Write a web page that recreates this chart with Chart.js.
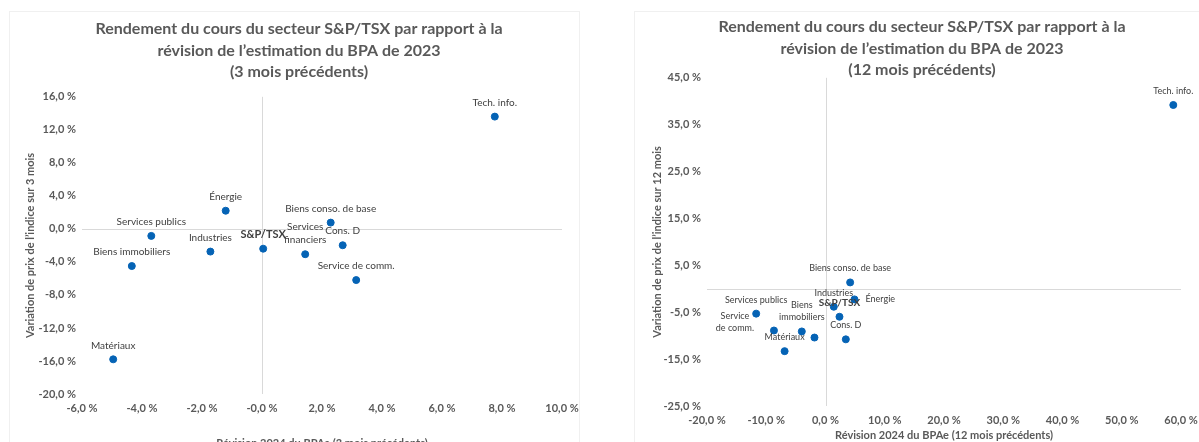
<!DOCTYPE html>
<html>
<head>
<meta charset="utf-8">
<script src="https://cdn.jsdelivr.net/npm/chart.js@4.4.1/dist/chart.umd.min.js"></script>
<style>
html, body { margin: 0; padding: 0; background: #fff; overflow: hidden; width: 1199px; height: 442px; }
canvas { position: absolute; top: 0; }
#c3 { left: 0; }
#c12 { left: 610px; }
.panel { position: absolute; border: 1px solid #f0f0f0; }
</style>
</head>
<body>
<div class="panel" style="left:9px;top:11px;width:569px;height:460px"></div>
<div class="panel" style="left:634px;top:11px;width:600px;height:460px"></div>
<canvas id="c3" width="600" height="470"></canvas>
<canvas id="c12" width="600" height="470"></canvas>
<script>
// 3 mois
const sectors3m = ['Tech. info.', 'Énergie', 'Services publics', 'Industries', 'S&P/TSX', 'Biens immobiliers',
  'Matériaux', 'Biens conso. de base', 'Cons. D', 'Services financiers', 'Service de comm.'];
const epsRevision3m = [7.76, -1.21, -3.69, -1.72, 0.04, -4.34, -4.96, 2.29, 2.69, 1.44, 3.14];
const priceChange3m = [13.6, 2.2, -0.85, -2.75, -2.4, -4.5, -15.8, 0.76, -1.98, -3.07, -6.2];

const xTicks3m = [-6, -4, -2, 0, 2, 4, 6, 8, 10];
const xTickLabels3m = ['-6,0 %', '-4,0 %', '-2,0 %', '-0,0 %', '2,0 %', '4,0 %', '6,0 %', '8,0 %', '10,0 %'];
const yTicks3m = [16, 12, 8, 4, 0, -4, -8, -12, -16, -20];
const yTickLabels3m = ['16,0 %', '12,0 %', '8,0 %', '4,0 %', '0,0 %', '-4,0 %', '-8,0 %', '-12,0 %', '-16,0 %', '-20,0 %'];

// 12 mois
const sectors12m = ['Tech. info.', 'Biens conso. de base', 'Énergie', 'Industries', 'S&P/TSX', 'Cons. D',
  'Services publics', 'Service de comm.', 'Biens immobiliers', 'Matériaux', 'Services financiers'];
const epsRevision12m = [58.7, 4.16, 4.89, 1.4, 2.36, 3.43, -11.7, -8.7, -4.0, -6.9, -1.86];
const priceChange12m = [39.2, 1.36, -2.26, -3.83, -5.97, -10.78, -5.3, -8.9, -9.1, -13.3, -10.4];

const xTicks12m = [-20, -10, 0, 10, 20, 30, 40, 50, 60];
const xTickLabels12m = ['-20,0 %', '-10,0 %', '0,0 %', '10,0 %', '20,0 %', '30,0 %', '40,0 %', '50,0 %', '60,0 %'];
const yTicks12m = [45, 35, 25, 15, 5, -5, -15, -25];
const yTickLabels12m = ['45,0 %', '35,0 %', '25,0 %', '15,0 %', '5,0 %', '-5,0 %', '-15,0 %', '-25,0 %'];

const FONT = 'Lato, "Open Sans", sans-serif';
const GREY = '#595959';
const BLUE = '#0563b5';

// axes crossing at zero
const zeroLines = {
  id: 'zeroLines',
  beforeDatasetsDraw(chart) {
    const { ctx, chartArea: a, scales: { x, y } } = chart;
    const x0 = Math.round(x.getPixelForValue(0)) + 0.5;
    const y0 = Math.round(y.getPixelForValue(0)) + 0.5;
    ctx.save();
    ctx.strokeStyle = '#d9d9d9';
    ctx.lineWidth = 1;
    ctx.beginPath();
    ctx.moveTo(a.left, y0); ctx.lineTo(a.right, y0);
    ctx.moveTo(x0, a.top); ctx.lineTo(x0, a.bottom);
    ctx.stroke();
    ctx.restore();
  }
};

// text labels next to each point
const pointLabels = {
  id: 'pointLabels',
  afterDatasetsDraw(chart, args, opts) {
    const ctx = chart.ctx;
    const meta = chart.getDatasetMeta(0);
    const names = chart.data.labels;
    ctx.save();
    ctx.fillStyle = '#404040';
    meta.data.forEach((pt, i) => {
      const name = names[i];
      if (opts.hidden.includes(name)) return;
      const lines = opts.wrap[name] || [name];
      const bold = name === 'S&P/TSX';
      const size = bold ? opts.size + 1 : opts.size;
      ctx.font = (bold ? 'bold ' : '') + size + 'px ' + FONT;
      ctx.textBaseline = 'middle';
      const lh = size + 3;
      const side = opts.side[name] || 'top';
      lines.forEach((ln, k) => {
        let tx = pt.x, ty;
        if (side === 'top') {
          ctx.textAlign = 'center';
          ty = pt.y - 14 - (lines.length - 1 - k) * lh;
        } else if (side === 'right') {
          ctx.textAlign = 'left';
          tx = pt.x + 11;
          ty = pt.y + (k - (lines.length - 1) / 2) * lh;
        } else {
          ctx.textAlign = 'center';
          tx = pt.x - 39;
          ty = pt.y - 8 + (k - (lines.length - 1) / 2) * lh;
        }
        ctx.fillText(ln, tx, ty);
      });
    });
    ctx.restore();
  }
};

function makeChart(id, o) {
  return new Chart(document.getElementById(id), {
    type: 'scatter',
    data: {
      labels: o.names,
      datasets: [{
        data: o.xs.map((v, i) => ({ x: v, y: o.ys[i] })),
        backgroundColor: BLUE,
        borderColor: BLUE,
        pointRadius: 3.5,
        pointHoverRadius: 3.5
      }]
    },
    options: {
      responsive: false,
      animation: false,
      events: [],
      layout: { padding: o.padding },
      plugins: {
        legend: { display: false },
        tooltip: { enabled: false },
        title: {
          display: true,
          text: o.title,
          color: GREY,
          font: { family: FONT, size: 16, weight: 'bold', lineHeight: 1.35 },
          padding: o.titlePad
        },
        pointLabels: o.labelOpts
      },
      scales: {
        x: {
          type: 'linear',
          min: o.xTicks[0],
          max: o.xTicks[o.xTicks.length - 1],
          afterBuildTicks: s => { s.ticks = o.xTicks.map(v => ({ value: v })); },
          afterFit: s => { s.height = o.xHeight; },
          grid: { display: false, drawTicks: false },
          border: { display: false },
          ticks: {
            autoSkip: false, maxRotation: 0, padding: 8,
            color: GREY, font: { family: FONT, size: 11, weight: 'bold' },
            callback: (v, i) => o.xLabels[i]
          },
          title: {
            display: true, text: o.xTitle, color: GREY,
            font: { family: FONT, size: 11, weight: 'bold' },
            padding: o.xTitlePad
          }
        },
        y: {
          type: 'linear',
          min: o.yTicks[o.yTicks.length - 1],
          max: o.yTicks[0],
          afterBuildTicks: s => { s.ticks = o.yTicks.slice().reverse().map(v => ({ value: v })); },
          afterFit: s => { s.width = o.yWidth; },
          grid: { display: false, drawTicks: false },
          border: { display: false },
          ticks: {
            autoSkip: false, padding: 6,
            color: GREY, font: { family: FONT, size: 11, weight: 'bold' },
            callback: (v, i) => o.yLabels[o.yLabels.length - 1 - i]
          },
          title: {
            display: true, text: o.yTitle, color: GREY,
            font: { family: FONT, size: 11, weight: 'bold' },
            padding: o.yTitlePad
          }
        }
      }
    },
    plugins: [zeroLines, pointLabels]
  });
}

makeChart('c3', {
  names: sectors3m, xs: epsRevision3m, ys: priceChange3m,
  xTicks: xTicks3m, xLabels: xTickLabels3m, yTicks: yTicks3m, yLabels: yTickLabels3m,
  title: ['Rendement du cours du secteur S&P/TSX par rapport à la', 'révision de l’estimation du BPA de 2023', '(3 mois précédents)'],
  xTitle: 'Révision 2024 du BPAa (3 mois précédents)',
  yTitle: 'Variation de prix de l’indice sur 3 mois',
  padding: { left: 36, right: 38, top: 0, bottom: 0 },
  titlePad: { top: 18, bottom: 14 },
  xHeight: 76, yWidth: 46,
  xTitlePad: { top: 4, bottom: 20 },
  yTitlePad: { top: -12, bottom: 0 },
  labelOpts: { size: 10, hidden: [], side: {}, wrap: { 'Services financiers': ['Services', 'financiers'] } }
});

makeChart('c12', {
  names: sectors12m, xs: epsRevision12m, ys: priceChange12m,
  xTicks: xTicks12m, xLabels: xTickLabels12m, yTicks: yTicks12m, yLabels: yTickLabels12m,
  title: ['Rendement du cours du secteur S&P/TSX par rapport à la', 'révision de l’estimation du BPA de 2023', '(12 mois précédents)'],
  xTitle: 'Révision 2024 du BPAe (12 mois précédents)',
  yTitle: 'Variation de prix de l’indice sur 12 mois',
  padding: { left: 53, right: 29, top: 0, bottom: 0 },
  titlePad: { top: 16, bottom: -3 },
  xHeight: 64, yWidth: 44,
  xTitlePad: { top: 4, bottom: 28 },
  yTitlePad: { top: -12, bottom: 0 },
  labelOpts: {
    size: 9, hidden: ['Services financiers'],
    side: { 'Énergie': 'right', 'Service de comm.': 'left' },
    wrap: { 'Service de comm.': ['Service', 'de comm.'], 'Biens immobiliers': ['Biens', 'immobiliers'] }
  }
});
</script>
</body>
</html>
